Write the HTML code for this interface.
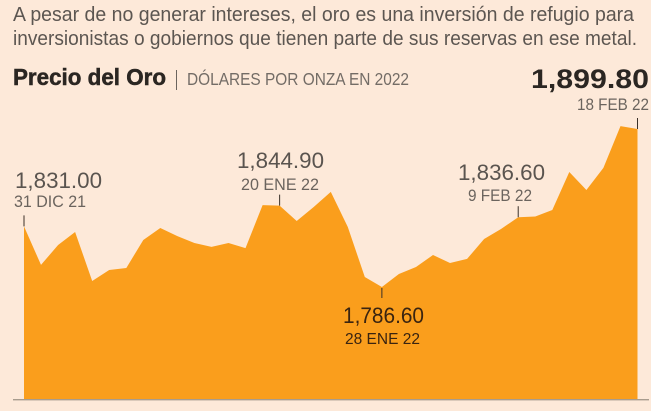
<!DOCTYPE html>
<html lang="es">
<head>
<meta charset="utf-8">
<title>Precio del Oro</title>
<style>
html,body{margin:0;padding:0;width:651px;height:411px;overflow:hidden;background:#fde9d9;}
svg{display:block;font-family:"Liberation Sans",sans-serif;}
</style>
</head>
<body>
<svg id="chart" width="651" height="411" viewBox="0 0 651 411" xmlns="http://www.w3.org/2000/svg">
  <rect width="651" height="411" fill="#fde9d9"/>
  <text x="13" y="21" font-size="20.5" fill="#5c5651" textLength="621" lengthAdjust="spacingAndGlyphs">A pesar de no generar intereses, el oro es una inversión de refugio para</text>
  <text x="13" y="45" font-size="20.5" fill="#5c5651" textLength="624" lengthAdjust="spacingAndGlyphs">inversionistas o gobiernos que tienen parte de sus reservas en ese metal.</text>
  <text x="13" y="85" font-size="23" font-weight="bold" fill="#2b2622" stroke="#2b2622" stroke-width="0.5" textLength="153" lengthAdjust="spacingAndGlyphs">Precio del Oro</text>
  <rect x="176" y="70" width="1" height="20" fill="#6b645e"/>
  <text x="187" y="85" font-size="17.5" fill="#736c66" textLength="222" lengthAdjust="spacingAndGlyphs">DÓLARES POR ONZA EN 2022</text>
  <g id="plot"></g>
</svg>
<script>
const categories = ["31 DIC 21","d2","d3","d4","d5","d6","d7","d8","d9","d10","d11","d12","d13","d14","d15","20 ENE 22","d17","d18","d19","d20","d21","28 ENE 22","d23","d24","d25","d26","d27","d28","d29","9 FEB 22","d31","d32","d33","d34","d35","d36","18 FEB 22"];
const prices = [1830.0,1802.4,1816.7,1826.0,1790.9,1798.8,1800.2,1820.3,1828.9,1823.1,1818.1,1815.3,1818.1,1814.5,1845.3,1844.9,1833.9,1843.9,1854.7,1829.6,1793.8,1786.6,1795.9,1800.9,1809.5,1803.8,1806.7,1821.0,1828.2,1836.6,1837.1,1841.8,1869.0,1856.1,1871.9,1901.9,1899.8];
const calloutIndexes = [0,15,21,29,36];
const calloutValues = ["1,831.00","1,844.90","1,786.60","1,836.60","1,899.80"];

const NS = "http://www.w3.org/2000/svg";
const plot = document.getElementById("plot");
const xLeft = 24, xRight = 637.5, yBase = 399;
const refLow = 1786.6, refHigh = 1899.8, yLow = 287, yHigh = 129;
function xScale(i){ return xLeft + i * (xRight - xLeft) / (prices.length - 1); }
function yScale(v){ return yLow + (v - refLow) * (yHigh - yLow) / (refHigh - refLow); }

function make(tag, attrs){
  const el = document.createElementNS(NS, tag);
  for (const k in attrs) el.setAttribute(k, attrs[k]);
  return el;
}

const pts = prices.map((v,i) => xScale(i).toFixed(1) + "," + yScale(v).toFixed(1));
const area = make("polygon", {
  points: xLeft + "," + yBase + " " + pts.join(" ") + " " + xRight + "," + yBase,
  fill: "#fa9e1c"
});


plot.appendChild(area);

const baseline = make("rect", {x: 13, y: 399, width: 636, height: 1.4, fill: "#a89c8e"});


plot.appendChild(baseline);

/* label layout per callout, in the same order as calloutIndexes */
const layout = [
  {vx:15, vw:87, vy:188, vs:22, dx:14, dw:72, dy:207, ds:16.5, below:false, dark:false, bold:false},
  {vx:237, vw:87, vy:168, vs:22, dx:241, dw:78, dy:190, ds:16.5, below:false, dark:false, bold:false},
  {vx:343, vw:81, vy:323, vs:22, dx:345, dw:75, dy:344, ds:16, below:true, dark:true, bold:false},
  {vx:458, vw:87, vy:180, vs:22, dx:468, dw:64, dy:201, ds:16.5, below:false, dark:false, bold:false},
  {vx:531, vw:118, vy:88, vs:27, dx:577, dw:72, dy:110, ds:16.5, below:false, dark:false, bold:true}
];

calloutIndexes.forEach((idx, n) => {
  const L = layout[n];
  const px = xScale(idx), py = yScale(prices[idx]);
  const leader = make("line", {
    x1: px, x2: px,
    y1: L.below ? py + 1 : py - 11,
    y2: L.below ? py + 11 : py,
    stroke: "#3a3028", "stroke-width": 1
  });
  
  
  plot.appendChild(leader);

  const value = make("text", {
    x: L.vx, y: L.vy, "font-size": L.vs,
    fill: L.bold ? "#2b2622" : (L.dark ? "#3a2410" : "#5a544f"),
    "font-weight": L.bold ? "bold" : "normal",
    textLength: L.vw, lengthAdjust: "spacingAndGlyphs"
  });
  value.textContent = calloutValues[n];
  
  
  plot.appendChild(value);

  const date = make("text", {
    x: L.dx, y: L.dy, "font-size": L.ds,
    fill: L.dark ? "#3a2410" : "#6b645e",
    textLength: L.dw, lengthAdjust: "spacingAndGlyphs"
  });
  date.textContent = categories[idx];
  
  
  plot.appendChild(date);
});
</script>
</body>
</html>
